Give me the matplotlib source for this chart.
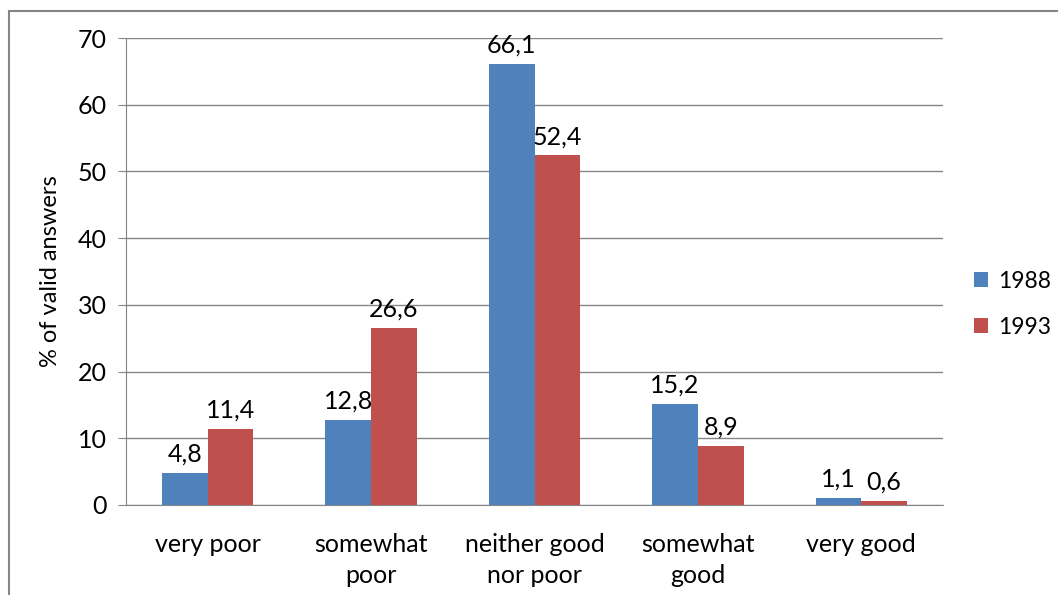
import numpy as np
import matplotlib.pyplot as plt
from matplotlib.patches import Rectangle

plt.rcParams['font.family'] = ['Lato', 'DejaVu Sans']

categories = ['very poor', 'somewhat\npoor', 'neither good\nnor poor', 'somewhat\ngood', 'very good']
years = ['1988', '1993']
values_1988 = [4.8, 12.8, 66.1, 15.2, 1.1]
values_1993 = [11.4, 26.6, 52.4, 8.9, 0.6]
colors = ['#4F81BD', '#C0504D']

fig = plt.figure(figsize=(10.58, 5.95), dpi=100)
ax = fig.add_axes([126/1058, 1 - 505/595, (943-126)/1058, (505-38)/595])

# outer chart frame (runs off the right and bottom edges)
fig.patches.append(Rectangle((9/1058, -0.1), 1.2, 1 - 11/595 + 0.1,
                             transform=fig.transFigure, fill=False,
                             edgecolor='#868686', linewidth=1.5))

x = np.arange(len(categories))
w = 0.28
for i, (vals, yr) in enumerate(zip([values_1988, values_1993], years)):
    pos = x + (i - 0.5) * w
    ax.bar(pos, vals, w, color=colors[i], label=yr, zorder=3)
    for p, v in zip(pos, vals):
        ax.text(p, v + 1.1, f'{v:.1f}'.replace('.', ','), ha='center', va='bottom',
                fontsize=18, color='black')

ax.set_xlim(-0.5, len(categories) - 0.5)
ax.set_ylim(0, 70)
ax.set_yticks(range(0, 71, 10))
ax.set_xticks(x)
ax.set_xticklabels(categories, fontsize=18, linespacing=1.45)
ax.tick_params(axis='y', labelsize=18, length=6, color='#868686', pad=8)
ax.tick_params(axis='x', length=0, pad=20)
ax.grid(axis='y', color='#868686', linewidth=1, zorder=0)
for s in ['top', 'right']:
    ax.spines[s].set_visible(False)
ax.spines['left'].set_color('#868686')
ax.spines['bottom'].set_color('#868686')
ax.set_ylabel('% of valid answers', fontsize=17, labelpad=12)

ax.legend(loc='center left', bbox_to_anchor=(1.0, 0.43), frameon=False,
          borderaxespad=0.95, fontsize=16.5, handlelength=0.6, handleheight=0.6,
          labelspacing=1.1, handletextpad=0.45)

fig.savefig('out.png', dpi=100)
